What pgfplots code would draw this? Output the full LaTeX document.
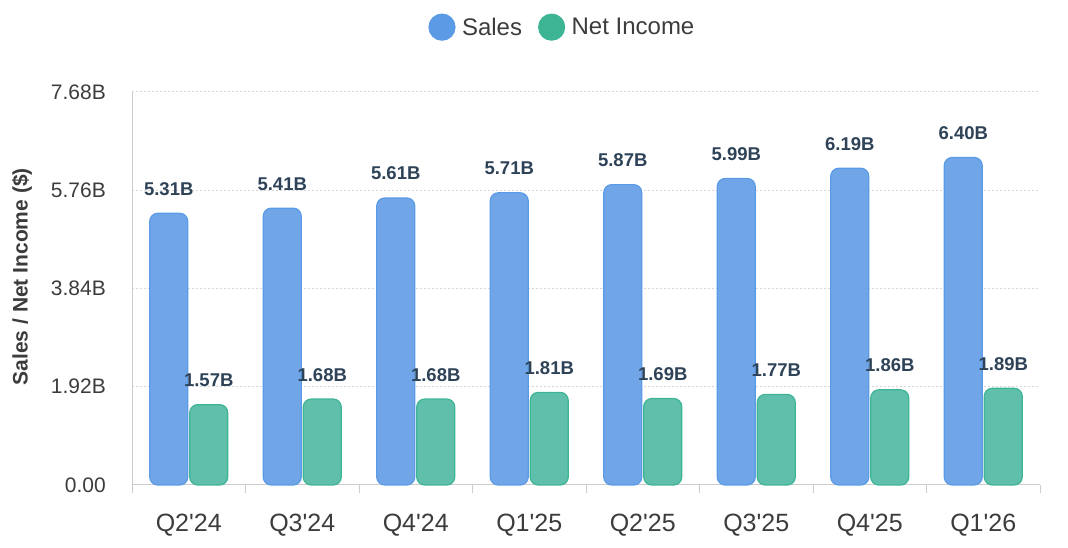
\documentclass[border=0pt]{standalone}
\usepackage{pgfplots}
\pgfplotsset{compat=1.18}
\usepackage{fontspec}
\setmainfont{Liberation Sans}
\definecolor{salesfill}{HTML}{70A5E8}
\definecolor{salesdraw}{HTML}{5B9BE6}
\definecolor{nifill}{HTML}{60BFAA}
\definecolor{nidraw}{HTML}{3DB595}
\definecolor{labelc}{HTML}{2E4258}
\definecolor{tickc}{HTML}{3C3C3C}
\definecolor{linec}{HTML}{CCCCCC}
\definecolor{gridc}{HTML}{D6D6D6}
\begin{document}
\begin{tikzpicture}[x=1pt,y=1pt]
\useasboundingbox (0,0) rectangle (1068,548);
\begin{axis}[
  at={(132pt,63pt)}, anchor=south west,
  scale only axis, width=908pt, height=393pt,
  xmin=-0.5, xmax=7.5, ymin=0, ymax=7.68,
  axis lines*=left,
  axis line style={draw=linec, line width=1pt},
  clip=false,
  ybar, bar width=38pt,
  ytick={0,1.92,3.84,5.76,7.68},
  yticklabels={0.00,1.92B,3.84B,5.76B,7.68B},
  xtick={0,...,7},
  xticklabels={Q2\textquotesingle24,Q3\textquotesingle24,Q4\textquotesingle24,Q1\textquotesingle25,Q2\textquotesingle25,Q3\textquotesingle25,Q4\textquotesingle25,Q1\textquotesingle26},
  minor xtick={-0.5,0.5,...,7.5},
  major tick length=0pt, minor tick length=8pt, tick align=outside,
  minor tick style={draw=linec, line width=1pt},
  ymajorgrids,
  grid style={draw=gridc, line width=1pt, dash pattern=on 2pt off 2pt},
  yticklabel style={anchor=east, inner sep=0pt, xshift=-26pt, font=\fontsize{21}{25}\selectfont, text=tickc},
  xticklabel style={anchor=base, inner sep=0pt, yshift=-47pt, font=\fontsize{25}{30}\selectfont, text=tickc},
  ylabel={Sales / Net Income (\$)},
  ylabel style={at={(axis description cs:-0.1211,0.53)}, anchor=center, font=\bfseries\fontsize{21}{25}\selectfont, text=tickc},
  nodes near coords={\pgfmathprintnumber[fixed,fixed zerofill,precision=2,assume math mode=true]{\pgfplotspointmeta}B},
  nodes near coords style={anchor=base, inner sep=0pt, yshift=18pt, font=\bfseries\fontsize{18.5}{22}\selectfont, text=labelc},
  legend style={at={(0.474,1.165)}, anchor=center, draw=none, fill=none,
    legend columns=2, font=\fontsize{24}{28}\selectfont, text=tickc,
    /tikz/every even column/.append style={column sep=14pt}},
]
\addplot[fill=salesfill, draw=salesdraw, line width=1.2pt, rounded corners=8pt, bar shift=-20pt,
  legend image code/.code={\fill[salesdraw] (0pt,0pt) circle (13pt); \path[draw=none,fill=none] (0pt,0pt) -- (18pt,0pt);}]
  coordinates {(0,5.31) (1,5.41) (2,5.61) (3,5.71) (4,5.87) (5,5.99) (6,6.19) (7,6.40)};
\addlegendentry{Sales}
\addplot[fill=nifill, draw=nidraw, line width=1.2pt, rounded corners=8pt, bar shift=20pt,
  legend image code/.code={\fill[nidraw] (0pt,0pt) circle (13pt); \path[draw=none,fill=none] (0pt,0pt) -- (18pt,0pt);}]
  coordinates {(0,1.57) (1,1.68) (2,1.68) (3,1.81) (4,1.69) (5,1.77) (6,1.86) (7,1.89)};
\addlegendentry{Net Income}
\end{axis}
\end{tikzpicture}
\end{document}
